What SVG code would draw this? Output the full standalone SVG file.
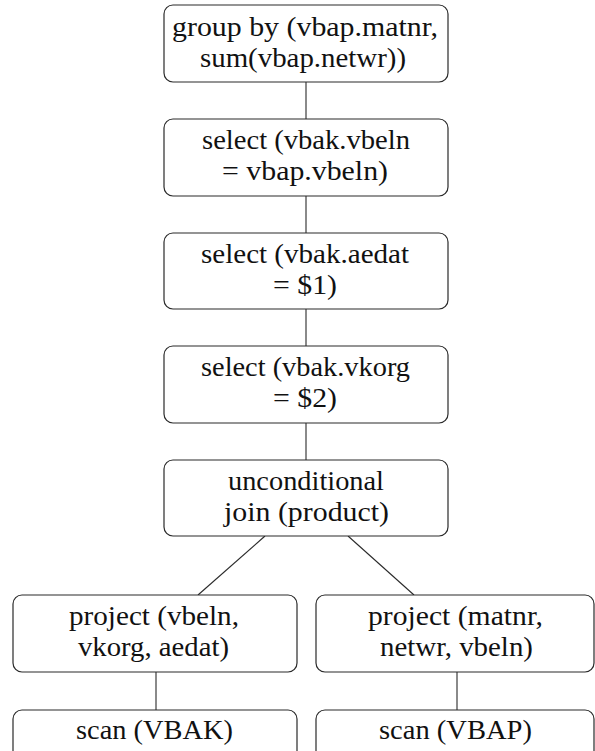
<svg xmlns="http://www.w3.org/2000/svg" width="595" height="751" viewBox="0 0 595 751">
  <style>
    .box { fill: #ffffff; stroke: #2a2a2a; stroke-width: 1.2; }
    .edge { stroke: #2a2a2a; stroke-width: 1.1; fill: none; }
    .lbl { font-family: "Liberation Serif", "DejaVu Serif", serif; font-size: 28px; fill: #111111; text-anchor: middle; }
  </style>
  <rect width="595" height="751" fill="#ffffff"/>

  <!-- connectors -->
  <g id="edges">
    <line class="edge" x1="306" y1="82" x2="306" y2="119"/>
    <line class="edge" x1="306" y1="196" x2="306" y2="233"/>
    <line class="edge" x1="306" y1="309" x2="306" y2="346"/>
    <line class="edge" x1="306" y1="423" x2="306" y2="460"/>
    <line class="edge" x1="265" y1="536" x2="198" y2="595"/>
    <line class="edge" x1="348" y1="536" x2="414" y2="595"/>
    <line class="edge" x1="156" y1="672" x2="156" y2="710"/>
    <line class="edge" x1="457" y1="672" x2="457" y2="710"/>
  </g>

  <g class="lbl">
    <g id="group-by">
      <rect class="box" x="164" y="5" width="284" height="77" rx="9"/>
      <text x="305" y="36" textLength="266" lengthAdjust="spacingAndGlyphs">group by (vbap.matnr,</text>
      <text x="303" y="67" textLength="206" lengthAdjust="spacingAndGlyphs">sum(vbap.netwr))</text>
    </g>

    <g id="select-vbeln">
      <rect class="box" x="164" y="119" width="284" height="77" rx="9"/>
      <text x="306" y="149" textLength="208" lengthAdjust="spacingAndGlyphs">select (vbak.vbeln</text>
      <text x="305" y="180" textLength="166" lengthAdjust="spacingAndGlyphs">= vbap.vbeln)</text>
    </g>

    <g id="select-aedat">
      <rect class="box" x="164" y="233" width="284" height="76" rx="9"/>
      <text x="305" y="263" textLength="208" lengthAdjust="spacingAndGlyphs">select (vbak.aedat</text>
      <text x="305" y="294" textLength="64" lengthAdjust="spacingAndGlyphs">= $1)</text>
    </g>

    <g id="select-vkorg">
      <rect class="box" x="164" y="346" width="284" height="77" rx="9"/>
      <text x="305.5" y="376" textLength="209" lengthAdjust="spacingAndGlyphs">select (vbak.vkorg</text>
      <text x="305" y="407" textLength="64" lengthAdjust="spacingAndGlyphs">= $2)</text>
    </g>

    <g id="join">
      <rect class="box" x="164" y="460" width="284" height="76" rx="9"/>
      <text x="306" y="490" textLength="156" lengthAdjust="spacingAndGlyphs">unconditional</text>
      <text x="306.5" y="521" textLength="165" lengthAdjust="spacingAndGlyphs">join (product)</text>
    </g>

    <g id="project-vbak">
      <rect class="box" x="13" y="595" width="284" height="77" rx="9"/>
      <text x="154" y="625" textLength="170" lengthAdjust="spacingAndGlyphs">project (vbeln,</text>
      <text x="153.5" y="656" textLength="151" lengthAdjust="spacingAndGlyphs">vkorg, aedat)</text>
    </g>

    <g id="project-vbap">
      <rect class="box" x="316" y="595" width="278" height="77" rx="9"/>
      <text x="455.5" y="625" textLength="175" lengthAdjust="spacingAndGlyphs">project (matnr,</text>
      <text x="456.5" y="656" textLength="153" lengthAdjust="spacingAndGlyphs">netwr, vbeln)</text>
    </g>

    <g id="scan-vbak">
      <rect class="box" x="13" y="710" width="284" height="60" rx="9"/>
      <text x="154.5" y="739" textLength="157" lengthAdjust="spacingAndGlyphs">scan (VBAK)</text>
    </g>

    <g id="scan-vbap">
      <rect class="box" x="316" y="710" width="278" height="60" rx="9"/>
      <text x="455.5" y="739" textLength="153" lengthAdjust="spacingAndGlyphs">scan (VBAP)</text>
    </g>
  </g>
</svg>
